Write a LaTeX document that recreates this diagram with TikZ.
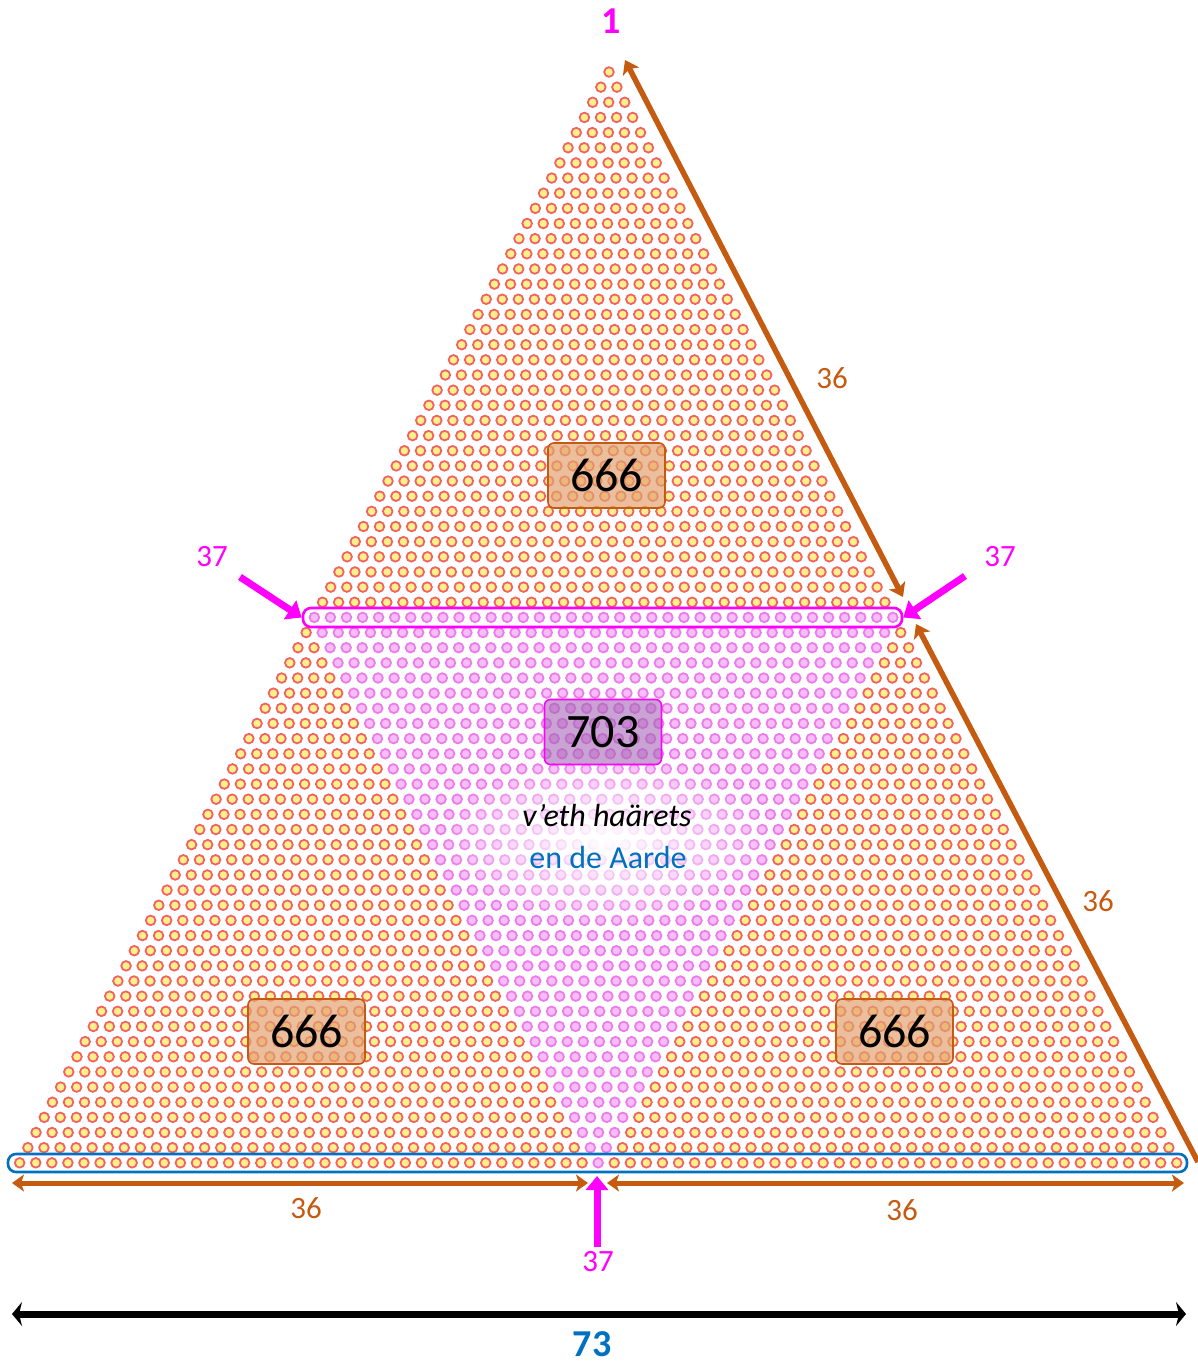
\documentclass[tikz,border=0pt]{standalone}
\usepackage{fontspec}
\setmainfont{Carlito}
\usepackage{xcolor}
\usetikzlibrary{arrows.meta,fadings}
\definecolor{edgebrown}{HTML}{C55A11}
\definecolor{hotpink}{HTML}{FF00FF}
\definecolor{textblue}{HTML}{0070C0}
\definecolor{dotyellow}{HTML}{FFF08A}
\definecolor{dotred}{HTML}{F26262}
\definecolor{dotpink}{HTML}{F6BDF6}
\definecolor{dotmagenta}{HTML}{EC7CEC}
\definecolor{boxorange}{HTML}{E2A272}
\definecolor{boxpurple}{HTML}{A566B5}
\tikzfading[name=glowfade,inner color=transparent!0,outer color=transparent!100]

\begin{document}
\begin{tikzpicture}[x=1pt,y=-1pt,
  orangedot/.style={fill=dotyellow,draw=dotred,line width=1.8pt},
  pinkdot/.style={fill=dotpink,draw=dotmagenta,line width=1.8pt},
  countbox/.style={draw=edgebrown,line width=1.6pt,rounded corners=6pt,fill=boxorange,fill opacity=0.7,text opacity=1,minimum width=117pt,minimum height=65pt,inner sep=0pt,font=\fontsize{48}{52}\selectfont},
  innerbox/.style={countbox,draw=hotpink,fill=boxpurple,fill opacity=0.6},
  rowframe/.style={draw,line width=2.6pt,rounded corners=8pt,inner sep=0pt},
  sidearr/.style={edgebrown,line width=5.5pt},
  pinkarr/.style={hotpink,line width=7pt,-{Triangle[length=14pt,width=22pt]}},
  brownlbl/.style={text=edgebrown,font=\fontsize{31}{34}\selectfont},
  pinklbl/.style={text=hotpink,font=\fontsize{31}{34}\selectfont}
]
\useasboundingbox (0,0) rectangle (1198,1366);

% the 73 rows of dots
\foreach \r in {1,...,73}{
  \foreach \i in {1,...,\r}{
    \pgfmathsetmacro\dotx{609-0.15*(\r-1)+16.07*(\i-(\r+1)/2)}
    \pgfmathsetmacro\doty{72+15.15*(\r-1)}
    \pgfmathtruncatemacro\inmid{and(\r>36,and(\i>\r-37,\i<38))}
    \ifnum\inmid=1
      \path[pinkdot] (\dotx,\doty) circle[radius=4.8pt];
    \else
      \path[orangedot] (\dotx,\doty) circle[radius=4.8pt];
    \fi
  }
}

% glow behind the words
\fill[white,path fading=glowfade] (606,840) ellipse[x radius=165pt,y radius=85pt];

\node[rowframe,draw=hotpink,minimum width=599pt,minimum height=19pt] (row37) at (602.5,617.5) {};
\node[rowframe,draw=textblue,minimum width=1179pt,minimum height=18pt] (row73) at (597.5,1163) {};

\node[countbox] (top666) at (606.5,475.5) {666};
\node[countbox] (left666) at (306.5,1031.5) {666};
\node[countbox] (right666) at (894.5,1031.5) {666};
\node[innerbox] (mid703) at (603,732) {703};

\node[font=\fontsize{32}{36}\selectfont\itshape] (hebrew) at (607,815) {v’eth haärets};
\node[text=textblue,font=\fontsize{32}{36}\selectfont] (dutch) at (608,857) {en de Aarde};

% edges
\coordinate (apex) at (625,60);
\coordinate (midright) at (903,597);
\coordinate (lowright) at (916,624);
\coordinate (baseright) at (1198,1162);
\draw[sidearr,{Stealth[length=13pt,width=18pt,inset=3pt]}-{Stealth[length=13pt,width=18pt,inset=3pt]}] (apex) -- (midright);
\draw[sidearr,{Stealth[length=13pt,width=18pt,inset=3pt]}-] (lowright) -- (baseright);
\node[brownlbl] (upper36) at (832,378) {36};
\node[brownlbl] (lower36) at (1098,901) {36};

\coordinate (baseL) at (12,1183);
\coordinate (baseML) at (588,1183);
\coordinate (baseMR) at (607,1183);
\coordinate (baseR) at (1184,1183);
\draw[sidearr,line width=5pt,{Stealth[length=12pt,width=17pt,inset=3pt]}-{Stealth[length=12pt,width=17pt,inset=3pt]}] (baseL) -- (baseML);
\draw[sidearr,line width=5pt,{Stealth[length=12pt,width=17pt,inset=3pt]}-{Stealth[length=12pt,width=17pt,inset=3pt]}] (baseMR) -- (baseR);
\node[brownlbl] (baseleft36) at (306,1208) {36};
\node[brownlbl] (baseright36) at (902,1210) {36};

% pointers to the 37s
\coordinate (ltail) at (240,577);
\coordinate (rtail) at (965,576);
\coordinate (btail) at (597,1247);
\draw[pinkarr] (ltail) -- (row37.west);
\draw[pinkarr] (rtail) -- (row37.east);
\draw[pinkarr] (btail) -- (597,1176);
\node[pinklbl] (left37) at (212,557) {37};
\node[pinklbl] (right37) at (1000,557) {37};
\node[pinklbl] (bottom37) at (598,1262) {37};

\node[text=hotpink,font=\fontsize{38}{42}\selectfont\bfseries] (one) at (611,21) {1};

\coordinate (totL) at (12,1314);
\coordinate (totR) at (1186,1314);
\draw[line width=7pt,{Stealth[length=10pt,width=24pt,inset=3pt]}-{Stealth[length=10pt,width=24pt,inset=3pt]}] (totL) -- (totR);
\node[text=textblue,font=\fontsize{38}{42}\selectfont\bfseries] (total) at (592,1344) {73};
\end{tikzpicture}
\end{document}
